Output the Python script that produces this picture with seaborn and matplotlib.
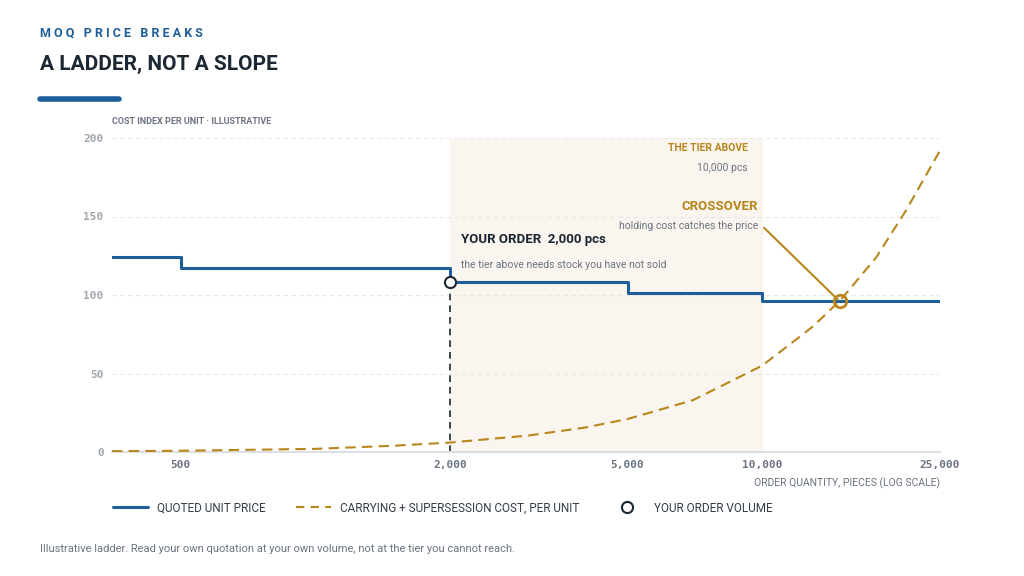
import matplotlib
matplotlib.use("Agg")
import matplotlib.pyplot as plt
import seaborn as sns
import numpy as np
from matplotlib.lines import Line2D

sns.set_theme(style="white")
plt.rcParams['font.family'] = ['Roboto', 'DejaVu Sans']

tier_start = [351, 500, 2000, 5000, 10000, 25000]
tier_price = [124, 117, 108, 101, 96, 96]
cost_qty = [351, 500, 750, 1000, 1500, 2000, 3000, 4000, 5000, 7000, 10000, 13000, 15000, 18000, 21000, 25000]
cost_val = [0.5, 0.8, 1.5, 2, 4, 6, 10.5, 15.5, 21, 33, 55, 80, 97, 124, 154, 192]
order_qty, order_price = 2000, 108
cross_qty, cross_val = 14900, 96
xticks = [500, 2000, 5000, 10000, 25000]
xticklabels = ["500", "2,000", "5,000", "10,000", "25,000"]
yticks = [0, 50, 100, 150, 200]

BLUE = "#1f5f99"; GOLD = "#b8861b"; DARK = "#1b2733"; GREY = "#6b7480"

fig = plt.figure(figsize=(10.24, 5.76), dpi=100)
ax = fig.add_axes([112/1024, 1-452/576, 828/1024, 314/576])
ax.axvspan(2000, 10000, color="#faf5ee", zorder=0)
sns.lineplot(x=tier_start, y=tier_price, drawstyle="steps-post", color=BLUE, lw=2.2, ax=ax, zorder=3)
sns.lineplot(x=cost_qty, y=cost_val, color=GOLD, lw=1.5, ls=(0, (5, 3)), ax=ax, zorder=3)
ax.plot([order_qty, order_qty], [0, order_price], color=DARK, lw=1.2, ls=(0, (4, 3)), zorder=2)
ax.plot(order_qty, order_price, 'o', ms=8, mfc="white", mec=DARK, mew=1.5, zorder=5)
ax.plot(cross_qty, cross_val, 'o', ms=9, mfc="none", mec=GOLD, mew=2, zorder=5)
ax.annotate("", xy=(cross_qty, cross_val), xytext=(10000, 144),
            arrowprops=dict(arrowstyle="-", color=GOLD, lw=1.5))
ax.set_xscale("log")
ax.set_xlim(351, 25000); ax.set_ylim(0, 200)
ax.set_xticks(xticks); ax.set_xticklabels(xticklabels)
ax.minorticks_off()
ax.set_yticks(yticks)
for t in ax.get_xticklabels():
    t.set_fontfamily("DejaVu Sans Mono"); t.set_fontsize(8); t.set_color(GREY); t.set_fontweight("bold")
for t in ax.get_yticklabels():
    t.set_fontfamily("DejaVu Sans Mono"); t.set_fontsize(8); t.set_color("#a0a6ad"); t.set_fontweight("bold")
ax.tick_params(length=0, pad=6)
ax.grid(axis="y", color="#e6e8eb", ls=(0, (4, 3)), lw=0.8)
for s in ["top", "right", "left"]:
    ax.spines[s].set_visible(False)
ax.spines["bottom"].set_color("#dcdfe3"); ax.spines["bottom"].set_linewidth(1.5)
ax.set_xlabel(""); ax.set_ylabel("")

ax.text(2120, 133, "YOUR ORDER  2,000 pcs", fontsize=9.5, fontweight="bold", color=DARK, fontstretch="condensed")
ax.text(2120, 117, "the tier above needs stock you have not sold", fontsize=7.5, color=GREY)
ax.text(9300, 192, "THE TIER ABOVE", fontsize=7.5, fontweight="bold", color=GOLD, ha="right")
ax.text(9300, 179, "10,000 pcs", fontsize=7.5, color=GREY, ha="right")
ax.text(9800, 154, "CROSSOVER", fontsize=9.5, fontweight="bold", color=GOLD, ha="right")
ax.text(9800, 142, "holding cost catches the price", fontsize=7.5, color=GREY, ha="right")

fig.text(40/1024, 1-33/576, "M O Q   P R I C E   B R E A K S", fontsize=9, fontweight="bold", color=BLUE, va="center")
fig.text(40/1024, 1-64/576, "A LADDER, NOT A SLOPE", fontsize=15, fontweight="bold", color=DARK, va="center")
fig.add_artist(Line2D([40/1024, 119/1024], [1-99/576, 1-99/576], color=BLUE, lw=4))
fig.text(112/1024, 1-122/576, "COST INDEX PER UNIT · ILLUSTRATIVE", fontsize=6.5, fontweight="bold", color=GREY, va="center")
fig.text(940/1024, 1-483/576, "ORDER QUANTITY, PIECES (LOG SCALE)", fontsize=7.5, color=GREY, ha="right", va="center")

handles = [Line2D([], [], color=BLUE, lw=2.2),
           Line2D([], [], color=GOLD, lw=1.5, ls=(0, (4, 3))),
           Line2D([], [], marker='o', ls='none', ms=8, mfc="white", mec=DARK, mew=1.5)]
labels = ["QUOTED UNIT PRICE", "CARRYING + SUPERSESSION COST, PER UNIT", "YOUR ORDER VOLUME"]
fig.legend(handles, labels, loc="center left", bbox_to_anchor=(102/1024, 1-508/576), ncol=3,
           frameon=False, fontsize=8.5, labelcolor="#333d47", handlelength=3, columnspacing=2.5)
fig.text(40/1024, 1-549/576, "Illustrative ladder. Read your own quotation at your own volume, not at the tier you cannot reach.",
         fontsize=8, color=GREY, va="center")
fig.savefig("out.png", dpi=100)
